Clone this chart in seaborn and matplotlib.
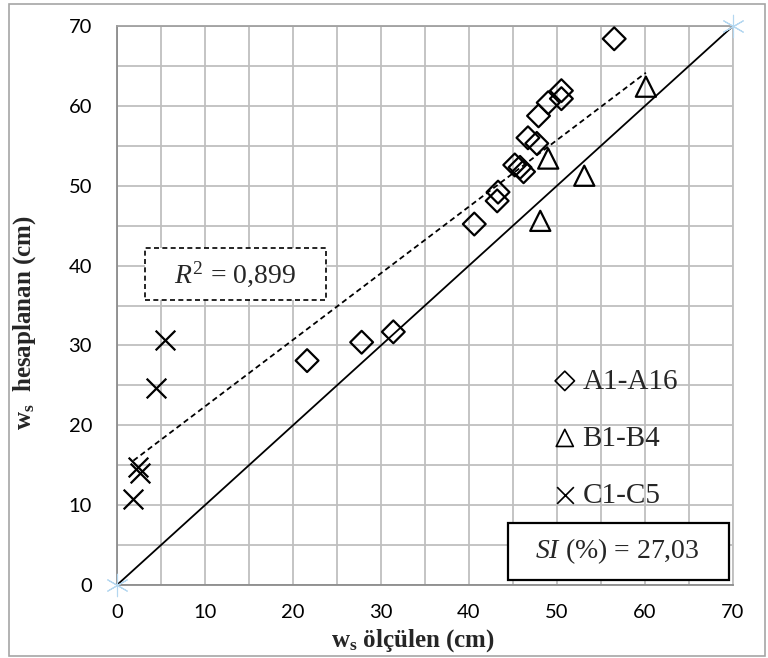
import numpy as np
import pandas as pd
import matplotlib
matplotlib.use("Agg")
import matplotlib.pyplot as plt
import seaborn as sns
from matplotlib.patches import Rectangle

# Measured (ölçülen) vs. computed (hesaplanan) w_s values, cm
a_olculen = [21.6, 27.8, 31.4, 40.6, 43.2, 43.3, 45.2, 45.8, 46.2, 46.7, 47.7, 47.9, 49.0, 50.5, 50.5, 56.5]
a_hesap = [28.1, 30.4, 31.7, 45.2, 48.1, 49.2, 52.6, 52.3, 51.75, 56.0, 55.3, 58.75, 60.4, 60.9, 61.9, 68.4]
b_olculen = [48.1, 49.0, 53.1, 60.1]
b_hesap = [45.6, 53.4, 51.25, 62.4]
c_olculen = [1.86, 2.4, 2.6, 4.4, 5.5]
c_hesap = [10.8, 14.8, 14.0, 24.7, 30.7]

group_labels = ["A1-A16", "B1-B4", "C1-C5"]
axis_ticks = [0, 10, 20, 30, 40, 50, 60, 70]
r2_value = "0,899"
si_value = "27,03"

df = pd.concat([
    pd.DataFrame({"olculen": a_olculen, "hesap": a_hesap, "grup": group_labels[0]}),
    pd.DataFrame({"olculen": b_olculen, "hesap": b_hesap, "grup": group_labels[1]}),
    pd.DataFrame({"olculen": c_olculen, "hesap": c_hesap, "grup": group_labels[2]}),
], ignore_index=True)

sns.set_style("white")
plt.rcParams.update({
    "font.family": ["Lato", "DejaVu Sans"],
    "mathtext.fontset": "custom",
    "mathtext.rm": "Liberation Serif",
    "mathtext.it": "Liberation Serif:italic",
    "mathtext.bf": "Liberation Serif:bold",
})

W, H = 768, 658
fig = plt.figure(figsize=(W / 100, H / 100), dpi=100)
ax = fig.add_axes([117 / W, 73 / H, 616 / W, 559 / H])

grid_c = "#bfbfbf"
axis_c = "#8c8c8c"

# grid every 5, ticks/labels every 10
lim = [axis_ticks[0], axis_ticks[-1]]
ax.set_xlim(lim)
ax.set_ylim(lim)
ax.set_xticks(axis_ticks)
ax.set_yticks(axis_ticks)
ax.set_xticks(np.arange(5, 70, 10), minor=True)
ax.set_yticks(np.arange(5, 70, 10), minor=True)
ax.grid(which="both", color=grid_c, lw=1.3, zorder=0)
ax.set_axisbelow(True)
ax.tick_params(which="minor", length=0)
ax.tick_params(axis="both", which="major", length=6, width=1.2, color=axis_c,
               labelsize=14.5, labelcolor="black", direction="out")
ax.tick_params(axis="y", pad=12)
ax.tick_params(axis="x", pad=8)
for side in ["left", "bottom"]:
    ax.spines[side].set_color(axis_c)
    ax.spines[side].set_linewidth(1.3)
ax.spines["top"].set_color("#a0a0a0")
ax.spines["top"].set_linewidth(1.3)
ax.spines["right"].set_color(grid_c)
ax.spines["right"].set_linewidth(1.3)

# 1:1 line
ax.plot(lim, lim, color="black", lw=1.3, zorder=2)

# least-squares trend over all points
x_all = df["olculen"].to_numpy()
y_all = df["hesap"].to_numpy()
slope, intercept = np.polyfit(x_all, y_all, 1)
xs = np.array([x_all.min(), x_all.max()])
ax.plot(xs, slope * xs + intercept, color="black", lw=1.3, ls=(0, (3, 2)), zorder=2)

# anchor markers at the 1:1 line ends
ax.scatter(lim, lim, marker=(6, 2, 0), s=260, color="#b4d7f0", lw=0.8,
           clip_on=False, zorder=3)

styles = {
    group_labels[0]: dict(marker="D", s=135, facecolor="none", edgecolor="black"),
    group_labels[1]: dict(marker="^", s=210, facecolor="none", edgecolor="black"),
    group_labels[2]: dict(marker="x", s=200),
}
for g in group_labels:
    sub = df[df["grup"] == g]
    sns.scatterplot(data=sub, x="olculen", y="hesap", color="black",
                    linewidth=1.6, label=g, ax=ax, zorder=4, **styles[g])

serif = "Liberation Serif"
ax.set_xlabel(r"$\mathbf{w}_\mathbf{s}$ ölçülen (cm)", fontfamily=serif,
              fontweight="bold", fontsize=18)
ax.set_ylabel(r"$\mathbf{w}_\mathbf{s}$  hesaplanan (cm)", fontfamily=serif,
              fontweight="bold", fontsize=18)
ax.xaxis.set_label_coords(0.48, -0.075)
ax.yaxis.set_label_coords(-0.128, 0.47)

leg = ax.legend(loc="upper left", bbox_to_anchor=(0.708, 0.388), frameon=False,
                prop={"family": serif, "size": 21}, handlelength=0.8,
                handletextpad=0.2, labelspacing=1.05, borderpad=0,
                borderaxespad=0, markerscale=0.85)
for h in leg.legend_handles:
    h.set_linewidth(1.2)

# R² box (dashed) and SI box
ax.add_patch(Rectangle((0.0455, 0.510), 0.2935, 0.093, transform=ax.transAxes,
                       fc="white", ec="black", lw=1.2, ls=(0, (3, 2)), zorder=5))
ax.text(0.192, 0.556, r"$R^2$ = " + r2_value, transform=ax.transAxes,
        ha="center", va="center", fontfamily=serif, fontsize=20, zorder=6)
ax.add_patch(Rectangle((0.635, 0.009), 0.3585, 0.102, transform=ax.transAxes,
                       fc="white", ec="black", lw=1.6, zorder=5))
ax.text(0.812, 0.060, r"$SI$ (%) = " + si_value, transform=ax.transAxes,
        ha="center", va="center", fontfamily=serif, fontsize=20, zorder=6)

# outer chart border
fig.add_artist(Rectangle((9 / W, 2 / H), 756 / W, 652 / H, transform=fig.transFigure,
                         fill=False, ec="#a6a6a6", lw=1.2))

fig.savefig("out.png", dpi=100)
